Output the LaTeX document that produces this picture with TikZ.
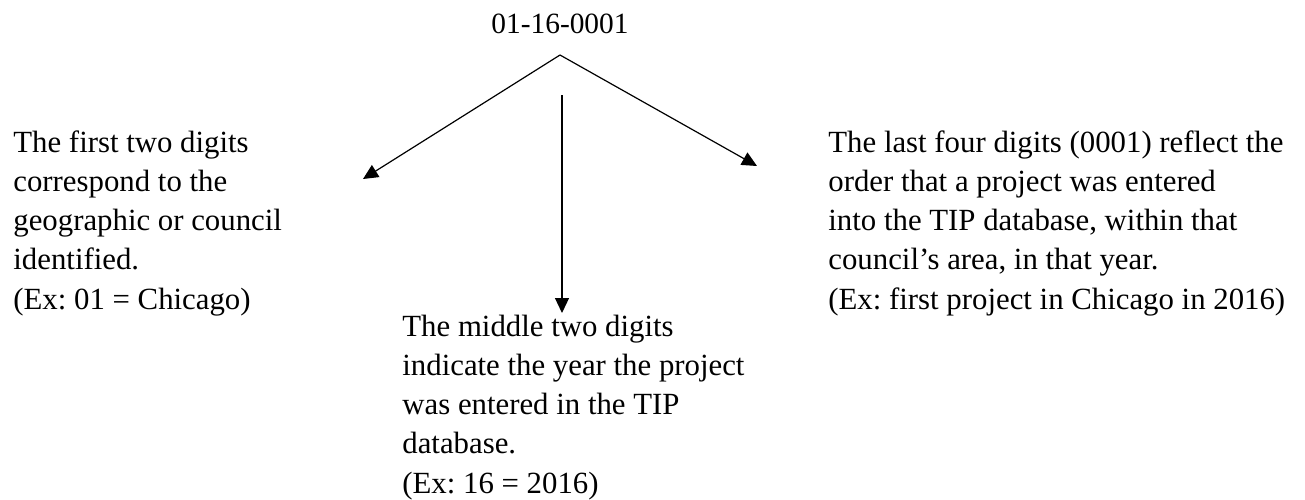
\documentclass[tikz,border=0pt]{standalone}
\usepackage{fontspec}
\setmainfont{Liberation Serif}
\usepackage{tikz}
\usetikzlibrary{positioning,arrows.meta}
\frenchspacing

\begin{document}
\begin{tikzpicture}
[
    x=0.5pt, y=-0.5pt,
    >={Triangle[length=7.5pt,width=7pt]},
]

\tikzstyle{digits}=[inner sep=0pt, font=\fontsize{14.7}{19.5}\selectfont]
\tikzstyle{explain}=[inner sep=0pt, align=left, anchor=base west, font=\fontsize{15.4}{19.6}\selectfont]
\tikzstyle{pointer}=[->, line width=0.6pt, black]

\useasboundingbox (0,0) rectangle (1305,499);
\node [digits, anchor=base] (code) at (560,33) {01-16-0001};
\coordinate (split) at (560,55);
\coordinate (mid top) at (562,95);
\coordinate (left tip) at (363,179);
\coordinate (right tip) at (757,166);
\coordinate (mid tip) at (562,313);
% anchored on the baseline of the last line
\node [explain] (first) at (13,309) {The first two digits\\correspond to the\\geographic or council\\identified.\\(Ex: 01 = Chicago)};
\node [explain] (middle) at (402,493) {The middle two digits\\indicate the year the project\\was entered in the TIP\\database.\\(Ex: 16 = 2016)};
\node [explain] (last) at (828,309) {The last four digits (0001) reflect the\\order that a project was entered\\into the TIP database, within that\\council’s area, in that year.\\(Ex: first project in Chicago in 2016)};
\draw [pointer] (split) -- (left tip);
\draw [pointer] (split) -- (right tip);
\draw [pointer] (mid top) -- (mid tip);
%\draw [pointer] (code) -- (middle);
\end{tikzpicture}
\end{document}
